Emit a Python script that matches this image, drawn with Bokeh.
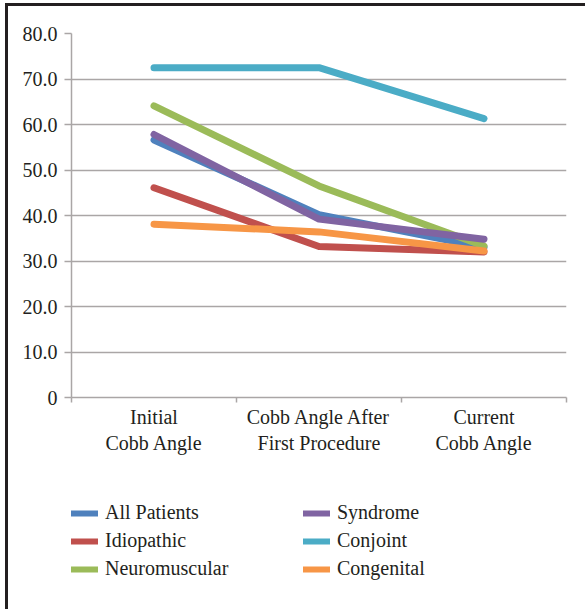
from bokeh.plotting import figure
from bokeh.layouts import column
from bokeh.models import (Range1d, FixedTicker, Legend, LegendItem)
from bokeh.embed import file_html
from bokeh.resources import INLINE

# Cobb angle (degrees) at each stage, by diagnosis group
categories = ["Initial\nCobb Angle", "Cobb Angle After\nFirst Procedure", "Current\nCobb Angle"]
all_patients = [56.6, 40.2, 33.0]
idiopathic = [46.1, 33.2, 32.0]
neuromuscular = [64.1, 46.5, 33.3]
syndrome = [57.8, 39.2, 34.8]
conjoint = [72.5, 72.5, 61.3]
congenital = [38.1, 36.4, 32.2]

y_ticks = [0, 10, 20, 30, 40, 50, 60, 70, 80]
y_tick_labels = ["0", "10.0", "20.0", "30.0", "40.0", "50.0", "60.0", "70.0", "80.0"]

series = [
    ("All Patients", all_patients, "#4F81BD"),
    ("Idiopathic", idiopathic, "#C0504D"),
    ("Neuromuscular", neuromuscular, "#9BBB59"),
    ("Syndrome", syndrome, "#8064A2"),
    ("Conjoint", conjoint, "#4BACC6"),
    ("Congenital", congenital, "#F79646"),
]
# legend reads row by row, two entries per row
legend_order = ["All Patients", "Syndrome", "Idiopathic", "Conjoint",
                "Neuromuscular", "Congenital"]

FONT = "Liberation Serif"
TEXT = "#231f20"
GRID = "#aaa6a6"

p = figure(width=577, height=455, output_backend="svg", toolbar_location=None,
           x_range=Range1d(0, len(categories)), y_range=Range1d(0, 80),
           min_border_left=63, min_border_right=19, min_border_top=27,
           min_border_bottom=64)
p.outline_line_color = None
p.background_fill_color = "white"
p.border_fill_color = "white"

xs = [i + 0.5 for i in range(len(categories))]

# Y axis
yax = p.yaxis[0]
yax.ticker = FixedTicker(ticks=y_ticks)
yax.major_label_overrides = {t: s for t, s in zip(y_ticks, y_tick_labels)}
yax.axis_line_color = GRID
yax.axis_line_width = 1.5
yax.major_tick_line_color = GRID
yax.major_tick_line_width = 1.5
yax.major_tick_out = 7
yax.major_tick_in = 0
yax.minor_tick_line_color = None
yax.major_label_standoff = 7
yax.major_label_text_font = FONT
yax.major_label_text_font_size = "20px"
yax.major_label_text_color = TEXT

# X axis: category labels at centres, tick marks at boundaries
xax = p.xaxis[0]
xax.ticker = FixedTicker(ticks=xs, minor_ticks=list(range(len(categories) + 1)))
xax.major_label_overrides = {x: c for x, c in zip(xs, categories)}
xax.axis_line_color = GRID
xax.axis_line_width = 1.5
xax.major_tick_line_color = None
xax.major_tick_out = 0
xax.major_tick_in = 0
xax.minor_tick_line_color = GRID
xax.minor_tick_line_width = 1.5
xax.minor_tick_out = 5
xax.minor_tick_in = 0
xax.major_label_standoff = 3
xax.major_label_text_font = FONT
xax.major_label_text_font_size = "20px"
xax.major_label_text_color = TEXT

p.xgrid.grid_line_color = None
p.ygrid.ticker = FixedTicker(ticks=y_ticks)
p.ygrid.grid_line_color = GRID
p.ygrid.grid_line_width = 1.5

for name, vals, color in series:
    p.line(xs, vals, line_color=color, line_width=7,
           line_cap="round", line_join="round")

# Legend panel beneath the chart; its series sit outside its view so only
# the legend keys show
lg = figure(width=577, height=148, output_backend="svg", toolbar_location=None,
            x_range=Range1d(0, len(categories)), y_range=Range1d(200, 201),
            min_border=0, min_border_left=0, min_border_right=0,
            min_border_top=0, min_border_bottom=0)
lg.axis.visible = False
lg.grid.visible = False
lg.outline_line_color = None
lg.background_fill_color = "white"
lg.border_fill_color = "white"

keys = {}
for name, vals, color in series:
    keys[name] = lg.line(xs, vals, line_color=color, line_width=6, line_cap="round")

items = [LegendItem(label=n, renderers=[keys[n]]) for n in legend_order]
legend = Legend(items=items, orientation="horizontal", ncols=2,
                location=(0, 29), margin=0, padding=2, spacing=5,
                glyph_width=27, glyph_height=22, label_height=22,
                label_width=193, label_standoff=7,
                label_text_font=FONT, label_text_font_size="20px",
                label_text_color=TEXT, border_line_color=None,
                background_fill_alpha=0)
lg.add_layout(legend)

page = column(p, lg, spacing=0)
page.styles = {"margin-left": "5px", "margin-top": "3px",
               "border-left": "3px solid #231f20", "border-top": "3px solid #231f20"}

open("out.html", "w").write(file_html(page, INLINE))
